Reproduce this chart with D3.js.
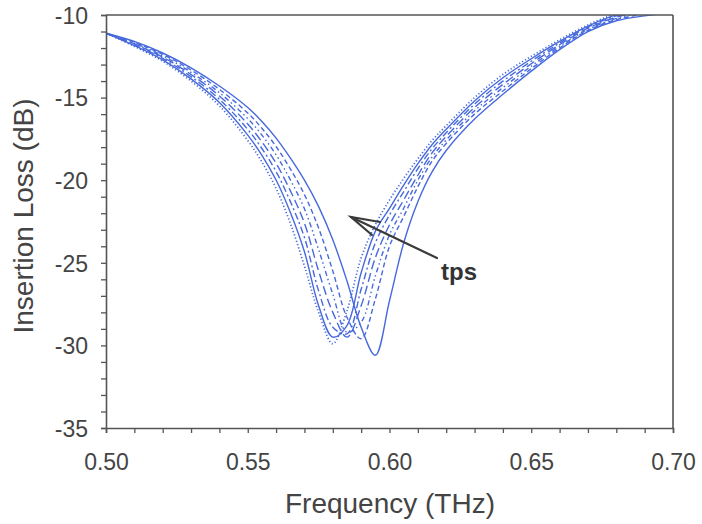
<!DOCTYPE html>
<html>
<head>
<meta charset="utf-8">
<script src="https://cdn.jsdelivr.net/npm/d3@7/dist/d3.min.js"></script>
<style>
  body { margin: 0; background: #fff; }
  svg text { font-family: "Liberation Sans", Arial, Helvetica, sans-serif; }
</style>
</head>
<body>
<svg id="chart" width="702" height="524"></svg>
<script>
// Frequency grid (THz)
const freq = [0.50, 0.51, 0.52, 0.53, 0.54, 0.55, 0.555, 0.56, 0.565, 0.57, 0.575, 0.58, 0.585, 0.59, 0.595, 0.60, 0.605, 0.61, 0.615, 0.62, 0.63, 0.64, 0.65, 0.66, 0.67, 0.68, 0.69, 0.70];

// Insertion loss (dB) for increasing tps (curve 1 -> curve 7)
const loss1 = [-11.1, -11.9, -12.8, -14.0, -15.5, -17.6, -18.9, -20.5, -22.6, -25.2, -28.0, -29.9, -27.9, -24.7, -22.7, -21.2, -19.9, -18.7, -17.6, -16.7, -15.0, -13.6, -12.5, -11.5, -10.6, -9.9, -9.4, -9.0];
const loss2 = [-11.1, -11.85, -12.72, -13.87, -15.3, -17.27, -18.49, -19.99, -21.94, -24.33, -27.6, -29.5, -28.8, -25.6, -23.1, -21.7, -20.3, -19.0, -17.85, -16.92, -15.2, -13.8, -12.65, -11.6, -10.67, -9.98, -9.51, -9.15];
const loss3 = [-11.1, -11.8, -12.63, -13.73, -15.1, -16.93, -18.08, -19.48, -21.28, -23.47, -26.7, -28.9, -29.3, -26.6, -23.8, -22.1, -20.7, -19.3, -18.1, -17.13, -15.4, -14.0, -12.8, -11.7, -10.73, -10.05, -9.62, -9.3];
const loss4 = [-11.1, -11.75, -12.55, -13.6, -14.9, -16.6, -17.68, -18.98, -20.63, -22.6, -25.5, -28.0, -29.5, -27.6, -24.7, -22.7, -21.2, -19.7, -18.35, -17.35, -15.6, -14.2, -12.95, -11.8, -10.8, -10.13, -9.73, -9.45];
const loss5 = [-11.1, -11.7, -12.47, -13.47, -14.7, -16.27, -17.27, -18.47, -19.97, -21.73, -24.2, -26.9, -29.2, -28.6, -25.8, -23.3, -21.7, -20.0, -18.6, -17.57, -15.8, -14.4, -13.1, -11.9, -10.87, -10.2, -9.83, -9.6];
const loss6 = [-11.1, -11.65, -12.38, -13.33, -14.5, -15.93, -16.86, -17.96, -19.31, -20.87, -22.9, -25.5, -28.3, -29.6, -27.2, -24.0, -22.2, -20.4, -18.85, -17.78, -16.0, -14.6, -13.25, -12.0, -10.93, -10.28, -9.94, -9.75];
const loss7 = [-11.1, -11.6, -12.3, -13.2, -14.3, -15.6, -16.45, -17.45, -18.65, -20.0, -21.6, -23.6, -26.1, -28.9, -30.6, -27.3, -23.8, -21.3, -19.5, -18.2, -16.3, -14.8, -13.4, -12.1, -11.0, -10.35, -10.05, -9.85];

const seriesList = [loss1, loss2, loss3, loss4, loss5, loss6, loss7];
const dashes = ["1.2,2.2", null, "7,3,2,3", "9,4", "5,3,1.5,3,1.5,3", "5,3", null];

const xTicks = [0.50, 0.55, 0.60, 0.65, 0.70];
const yTicks = [-10, -15, -20, -25, -30, -35];
const xLabel = "Frequency (THz)";
const yLabel = "Insertion Loss (dB)";
const annotation = "tps";

const svg = d3.select("#chart");
const L = 106, R = 673, T = 15, B = 428;
const x = d3.scaleLinear().domain([0.5, 0.7]).range([L, R]);
const y = d3.scaleLinear().domain([-35, -10]).range([B, T]);
const axisColor = "#555";
const lineColor = "#4669dd";

svg.append("defs").append("clipPath").attr("id", "clip")
  .append("rect").attr("x", L).attr("y", T).attr("width", R - L).attr("height", B - T);

// curves
const line = d3.line().x((d, i) => x(freq[i])).y(d => y(d)).curve(d3.curveCatmullRom.alpha(0.5));
const g = svg.append("g").attr("clip-path", "url(#clip)");
seriesList.forEach((s, k) => {
  g.append("path").datum(s)
    .attr("d", line)
    .attr("fill", "none")
    .attr("stroke", lineColor)
    .attr("stroke-width", k === 0 ? 1.7 : 1.4)
    .attr("stroke-dasharray", dashes[k]);
});

// axes
const xMinor = d3.range(0, 21).map(i => 0.5 + i * 0.01);
const yMinor = d3.range(-35, -9, 1);
const xAxis = d3.axisBottom(x).tickValues(xMinor).tickSize(5)
  .tickFormat(d => xTicks.some(t => Math.abs(t - d) < 1e-9) ? d3.format(".2f")(d) : "");
const yAxis = d3.axisLeft(y).tickValues(yMinor).tickSize(5)
  .tickFormat(d => yTicks.includes(d) ? d : "");

const gx = svg.append("g").attr("transform", `translate(0,${B})`).call(xAxis);
const gy = svg.append("g").attr("transform", `translate(${L},0)`).call(yAxis);
[gx, gy].forEach(a => {
  a.select(".domain").attr("stroke", axisColor).attr("stroke-width", 1.6);
  a.selectAll(".tick line").attr("stroke", axisColor).attr("stroke-width", 1.3);
  a.selectAll(".tick text").attr("fill", "#444").attr("font-size", 23)
    .attr("font-family", "'Liberation Sans', Arial, sans-serif");
});
gx.selectAll(".tick text").attr("dy", 0).attr("y", 42);
gy.selectAll(".tick text").attr("x", -18).attr("dy", "0.36em");

// top and right borders
svg.append("line").attr("x1", L).attr("x2", R).attr("y1", T).attr("y2", T)
  .attr("stroke", axisColor).attr("stroke-width", 1.6);
svg.append("line").attr("x1", R).attr("x2", R).attr("y1", T).attr("y2", B)
  .attr("stroke", axisColor).attr("stroke-width", 1.6);

// titles
svg.append("text").attr("x", 390).attr("y", 513).attr("text-anchor", "middle")
  .attr("font-size", 28).attr("fill", "#444").text(xLabel);
svg.append("text").attr("transform", "translate(33,216) rotate(-90)").attr("text-anchor", "middle")
  .attr("font-size", 28).attr("fill", "#444").text(yLabel);

// arrow annotation
const ag = svg.append("g").attr("stroke", "#3a3a3a").attr("stroke-width", 2.2).attr("fill", "none")
  .attr("stroke-linecap", "round");
ag.append("line").attr("x1", 437).attr("y1", 258).attr("x2", 351).attr("y2", 217);
ag.append("polyline").attr("points", "380,222 351,217 372,235");
svg.append("text").attr("x", 441).attr("y", 280).attr("font-size", 24).attr("font-weight", "bold")
  .attr("fill", "#333").text(annotation);
</script>
</body>
</html>
